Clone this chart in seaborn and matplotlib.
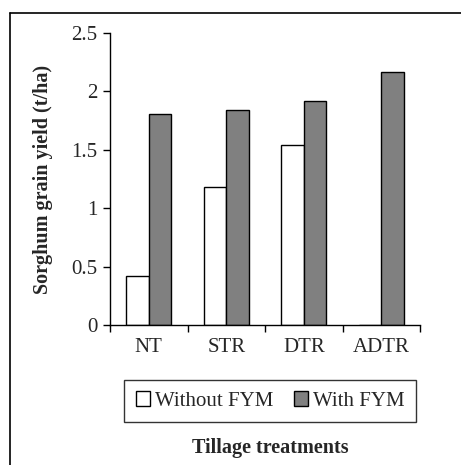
import pandas as pd
import seaborn as sns
import matplotlib.pyplot as plt
from matplotlib.lines import Line2D

# Werte
treatments = ["NT", "STR", "DTR", "ADTR"]
without_fym = [0.42, 1.18, 1.54, 0.0]
with_fym = [1.81, 1.84, 1.92, 2.17]
series = ["Without FYM", "With FYM"]

df = pd.DataFrame({
    "treatment": treatments * 2,
    "yield": without_fym + with_fym,
    "fym": [series[0]] * 4 + [series[1]] * 4,
})

sns.set_style("white")
plt.rcParams["font.family"] = ["Liberation Serif", "DejaVu Serif"]

W, H = 461, 465
fig = plt.figure(figsize=(W / 100, H / 100), dpi=100)
ax = fig.add_axes([110 / W, 1 - 325 / H, 310 / W, 292 / H])

sns.barplot(data=df, x="treatment", y="yield", hue="fym", ax=ax,
            palette=["white", "#808080"], edgecolor="black", linewidth=1,
            width=0.58, gap=0, legend=False)

ax.set_xlim(-0.5, 3.5)
ax.set_ylim(0, 2.5)
ax.set_yticks([0, 0.5, 1, 1.5, 2, 2.5])
ax.set_yticklabels(["0", "0.5", "1", "1.5", "2", "2.5"])
ax.set_xticks(range(4))
ax.set_xticklabels(treatments)
ax.set_xticks([-0.5, 0.5, 1.5, 2.5, 3.5], minor=True)
ax.tick_params(axis="x", which="major", length=0, pad=9, labelsize=15)
ax.tick_params(axis="x", which="minor", length=5, width=1, color="black", direction="out", bottom=True)
ax.tick_params(axis="y", length=5, width=1, color="black", direction="out", left=True, labelsize=15, pad=4)
ax.set_xlabel("")
ax.set_ylabel("Sorghum grain yield (t/ha)", fontsize=14.5, fontweight="bold", labelpad=13)

for s in ["top", "right"]:
    ax.spines[s].set_visible(False)
for s in ["left", "bottom"]:
    ax.spines[s].set_color("black")
    ax.spines[s].set_linewidth(1)

handles = [plt.Rectangle((0, 0), 1, 1, facecolor=c, edgecolor="black", linewidth=1)
           for c in ["white", "#808080"]]
leg = fig.legend(handles, series, loc="center", bbox_to_anchor=(270 / W, 1 - 401 / H),
                 ncol=2, frameon=True, fancybox=False, edgecolor="black", fontsize=15,
                 handlelength=0.7, handleheight=0.7, handletextpad=0.2, columnspacing=1.0,
                 borderpad=0.55, borderaxespad=0)
leg.get_frame().set_linewidth(1)

fig.text(270 / W, 1 - 448 / H, "Tillage treatments", ha="center", va="center",
         fontsize=14.5, fontweight="bold")

# Rahmen um die Grafik (links und oben)
fig.add_artist(Line2D([9.5 / W, 9.5 / W], [0, 1 - 13 / H], color="black", lw=1.2))
fig.add_artist(Line2D([9.5 / W, 1], [1 - 13 / H, 1 - 13 / H], color="black", lw=1.2))

fig.savefig("out.png", dpi=100)
